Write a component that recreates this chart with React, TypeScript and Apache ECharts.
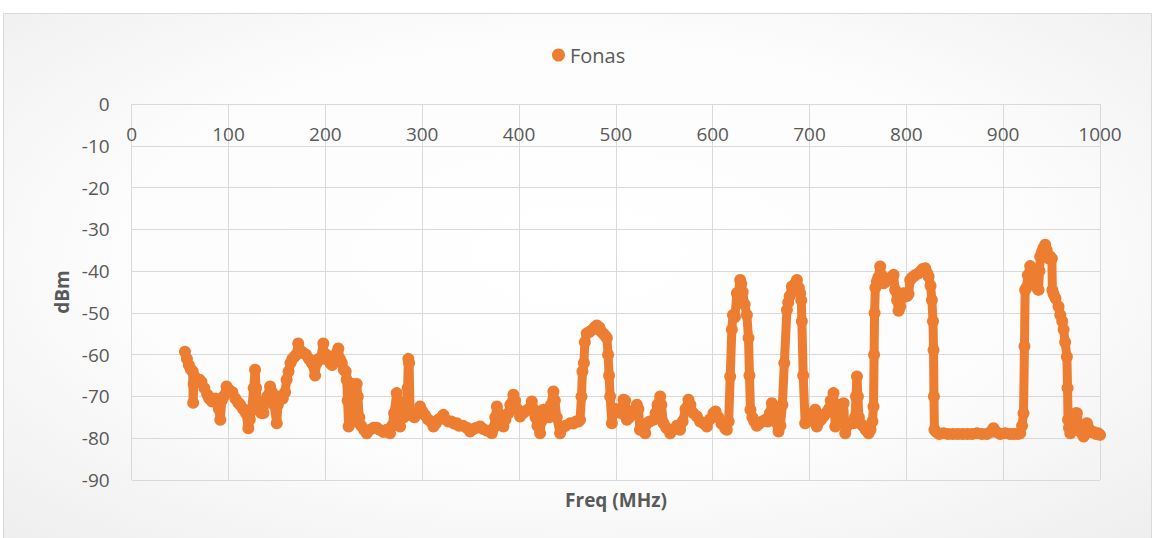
import React, { useEffect, useRef } from "react";
import * as echarts from "echarts";

const seriesName = "Fonas";
const xTitle = "Freq (MHz)";
const yTitle = "dBm";

const freqMHz = [
  55, 57, 59, 61, 63, 63.5, 64, 66, 68, 70, 72, 75, 78, 80, 83, 86, 88, 90, 91.5, 93, 95, 98, 101, 104, 107, 110, 112, 115, 118, 120.5,
  122, 124, 126, 127.4, 128.5, 130, 132, 134, 136, 138, 140, 142.9, 145, 147, 149.8, 151, 153, 156, 158.4, 160, 162, 164, 166, 168, 170, 172,
  174, 177, 180, 183, 186, 189.4, 191, 193, 195, 197.9, 199, 201, 203, 205, 207, 210, 212, 213.4, 215, 217, 219, 221, 222, 223, 224, 225.5,
  227, 228, 229, 230, 231, 232.4, 233.5, 235, 237, 240, 242.7, 246, 250, 253, 256, 260, 263, 266.8, 269, 271, 273.7, 275, 277.2, 279, 281,
  283, 285, 285.7, 286.5, 287.5, 289, 292, 295, 297.8, 300, 303, 306, 309, 311.6, 314, 317, 320, 321.9, 324, 327, 330, 333, 335.7, 338, 342,
  346, 349.5, 353, 356, 359.8, 363, 367, 371.9, 374, 375.5, 377.1, 379, 381, 383.9, 386, 389, 391, 394.2, 396, 398, 401.1, 404, 407, 410,
  413.2, 415, 417, 419, 421.8, 423, 425.2, 428, 431, 433, 435.5, 437, 439, 442.4, 445, 448, 452.8, 456, 459, 461.4, 463, 464.5, 465.5, 467,
  468, 470, 473, 476, 478, 480.3, 483, 485, 487.2, 489, 490.7, 492, 493, 494.1, 495.9, 497.5, 500, 503, 505, 507.9, 509.6, 511.4, 514, 517,
  520, 521.7, 523.3, 524.9, 527, 530.3, 532, 535, 538.9, 541, 543, 545.8, 547, 549.2, 552, 556.1, 559, 563, 566.3, 569, 572, 575, 577, 580,
  583.7, 587, 590.5, 594, 597, 600.8, 603, 606, 609, 612.9, 614.6, 616.5, 618.1, 619.8, 621, 623, 625, 626.7, 628.4, 629.5, 631, 633, 635.3,
  637, 638, 639, 641, 643, 645.6, 648, 651, 654.2, 657, 659, 661.1, 663, 665, 668, 670, 672, 674, 676.7, 678, 679.5, 681.8, 683, 685, 687,
  689, 690.4, 691.5, 692.1, 693.5, 695.5, 698, 701, 703, 705.9, 707.6, 710, 712, 714.4, 717, 720, 722, 724.8, 726.6, 728, 730, 732, 735.2,
  736.9, 739, 742, 745.5, 747, 748, 749, 750, 751, 752.4, 755, 758, 761, 763, 765, 766.1, 766.7, 767.2, 768, 769.6, 771, 773, 774.5, 776.4,
  779, 782, 784, 786.8, 788.5, 790.5, 792, 793.7, 795, 797.1, 799, 800.5, 802.3, 804, 806, 809, 812.6, 815, 817, 819.5, 821.5, 823, 825,
  826.4, 827.5, 828.1, 828.5, 829, 831, 834, 838.4, 843, 848, 853, 858, 863, 868, 873, 878, 883, 887, 890, 893, 897, 902, 907, 911, 915,
  917.6, 919.5, 921, 922, 922.7, 924, 925.5, 927.9, 929.5, 931.3, 933, 935, 936.5, 937.5, 938.3, 940, 941.5, 943.4, 945, 947, 948.5, 950.3,
  950.8, 952, 954, 957.2, 959, 961, 962.4, 964, 965.8, 966.5, 967, 968, 969.3, 971, 973, 975, 976.2, 978, 980, 983.1, 985, 986.5, 988, 990,
  993.4, 996, 998, 1000,
];

const levelDbm = [
  -59.3, -61, -62.5, -63.5, -64, -71.5, -67, -65.5, -66.5, -66, -66.5, -68, -69.5, -70.5, -71.2, -70.5, -71.5, -73, -75.6, -71, -70, -67.6, -68.5, -69, -70.5, -71.5, -72, -73, -74, -77.6,
  -75.5, -73, -68, -63.6, -68, -72, -73.5, -74, -74, -71, -70, -67.6, -69, -72, -76.4, -72, -70, -70.5, -69, -66, -64, -62, -61, -60.5, -60, -57.3,
  -59, -59.5, -60, -61, -62, -65, -62, -61, -61, -57.3, -61, -60, -61, -62, -62.5, -61.5, -59.5, -58.5, -61, -62, -63.6, -64, -66, -71, -77.2, -73,
  -70, -67, -69, -72, -76, -67, -70, -75, -77, -78, -78.8, -78, -77.5, -77.5, -78, -78.5, -78, -78.8, -77, -74, -69.2, -71, -77.2, -74, -75,
  -74, -68, -61, -62, -74, -74.5, -75, -74, -72.4, -73.5, -74.5, -75.5, -76, -77.2, -76.5, -75.5, -75, -74.4, -75.5, -76, -76, -76.5, -76.4, -77, -77,
  -77.5, -78.4, -77.8, -77.5, -77.2, -77.8, -78.2, -78.8, -77.5, -75, -72.4, -74, -76, -77.2, -75.5, -74, -72, -69.6, -71, -73, -74.8, -74, -73.5, -73,
  -71.2, -73, -75, -77, -78.8, -76, -73.2, -74, -75, -72, -68.8, -71, -75, -78.8, -77.5, -77, -76.4, -76.5, -76, -76, -75.6, -70, -64, -62,
  -57, -54.9, -54.5, -54, -53.5, -53, -53.5, -54.5, -55, -55.5, -56, -60, -65, -70, -76.4, -74, -73, -73.5, -74, -70.8, -71, -75.6, -75, -74,
  -73, -72, -73, -78, -77.5, -78.8, -76.4, -76, -75.6, -74, -72, -70, -72, -76.4, -77.5, -78.8, -78, -77, -78, -76, -73, -70.8, -72, -74,
  -74.8, -76, -76.4, -77.2, -75.5, -74, -73.6, -75, -76.5, -77.6, -78, -76, -65.2, -54, -50.5, -51, -45.3, -45, -42.1, -43, -45, -48, -50.5,
  -56, -65, -73.2, -75, -76, -77, -76.5, -76, -75.6, -76, -74, -71.6, -73, -76, -78.4, -77, -72, -62, -49.3, -47.5, -46, -43.7, -44.5, -43, -42.1,
  -44, -45.3, -47, -52, -65, -76.4, -76, -75, -74, -73.2, -77.2, -76, -75.5, -74.8, -74, -73, -71, -69.2, -77.2, -75, -73.5, -72, -71.6,
  -78.8, -77, -76.5, -76.4, -75, -70, -65.2, -70, -75, -76.4, -77, -78, -78.8, -78, -76, -72.4, -60, -50, -44, -42.5, -41.5, -38.9, -41, -42.9,
  -42.5, -42, -41.5, -40.9, -44.5, -47, -49.5, -48.5, -46.5, -45.3, -45.5, -46, -45.5, -42.1, -41.5, -41, -40.5, -40, -39.5, -39.3, -40.5, -41.3, -43.5,
  -46.9, -52, -58.9, -70, -78, -78.5, -79, -78.8, -79, -79, -79, -79, -79, -79, -78.8, -79, -79, -78.5, -77.6, -78.5, -79, -78.8, -79, -79, -79,
  -78.8, -77, -74, -58, -44.5, -44, -41, -38.8, -40.5, -42.9, -43, -44, -44.5, -40, -36.5, -35.5, -34.5, -33.7, -35, -37, -36.5, -37,
  -44.5, -45.5, -46.5, -48.5, -50.5, -52, -54, -57, -60.5, -68, -75.6, -77.5, -78.8, -78, -77, -74, -74, -77, -78.5, -79.6, -78, -76.4, -77.5, -78.5,
  -78.5, -79, -78.8, -79.2,
];

const xTicks = { min: 0, max: 1000, step: 100 };
const yTicks = { min: -90, max: 0, step: 10 };

const W = 1155;
const H = 538;
const FONT = "'Open Sans', 'Liberation Sans', sans-serif";
const TEXT = "#595959";
const GRIDLINE = "#d9d9d9";
const ORANGE = "#ED7D31";

export default function App() {
  const ref = useRef<HTMLDivElement>(null);

  useEffect(() => {
    if (!ref.current) return;
    const chart = echarts.init(ref.current, undefined, { renderer: "svg" });
    const points = freqMHz.map((f, i) => [f, levelDbm[i]]);

    chart.setOption({
      animation: false,
      backgroundColor: "#ffffff",
      textStyle: { fontFamily: FONT },
      graphic: [
        {
          type: "rect",
          z: -10,
          silent: true,
          shape: { x: 3.5, y: 13.5, width: 1148, height: 540 },
          style: {
            fill: {
              type: "radial",
              x: 0.5,
              y: 0.45,
              r: 0.75,
              colorStops: [
                { offset: 0, color: "#ffffff" },
                { offset: 0.55, color: "#fcfcfc" },
                { offset: 1, color: "#ededed" },
              ],
              global: false,
            },
            stroke: GRIDLINE,
            lineWidth: 1,
          },
        },
        {
          type: "text",
          x: 62,
          y: 292,
          rotation: Math.PI / 2,
          style: {
            text: yTitle,
            font: `bold 19px ${FONT}`,
            fill: TEXT,
            textAlign: "center",
            textVerticalAlign: "middle",
          },
        },
        {
          type: "text",
          x: 616,
          y: 500,
          style: {
            text: xTitle,
            font: `bold 19px ${FONT}`,
            fill: TEXT,
            textAlign: "center",
            textVerticalAlign: "middle",
          },
        },
      ],
      legend: {
        show: true,
        top: 40,
        left: 547,
        icon: "circle",
        itemWidth: 13,
        itemHeight: 13,
        itemGap: 10,
        textStyle: { color: TEXT, fontSize: 20, fontFamily: FONT },
        data: [seriesName],
      },
      grid: { left: 131.7, right: 55, top: 104, bottom: 58, containLabel: false },
      xAxis: {
        type: "value",
        min: xTicks.min,
        max: xTicks.max,
        interval: xTicks.step,
        position: "top",
        axisLine: { show: true, onZero: false, lineStyle: { color: GRIDLINE, width: 1 } },
        axisTick: { show: false },
        axisLabel: {
          color: TEXT,
          fontSize: 19,
          fontFamily: FONT,
          inside: true,
          margin: 20,
          formatter: (v: number) => String(v),
        },
        splitLine: { show: true, lineStyle: { color: GRIDLINE, width: 1 } },
      },
      yAxis: {
        type: "value",
        min: yTicks.min,
        max: yTicks.max,
        interval: yTicks.step,
        axisLine: { show: false },
        axisTick: { show: false },
        axisLabel: { color: TEXT, fontSize: 19, fontFamily: FONT, margin: 22 },
        splitLine: { show: true, lineStyle: { color: GRIDLINE, width: 1 } },
      },
      series: [
        {
          name: seriesName,
          type: "line",
          data: points,
          symbol: "circle",
          symbolSize: 12,
          showAllSymbol: true,
          itemStyle: { color: ORANGE },
          lineStyle: { color: ORANGE, width: 9, cap: "round", join: "round" },
          emphasis: { disabled: true },
        },
      ],
    });

    return () => chart.dispose();
  }, []);

  return (
    <div
      ref={ref}
      style={{ position: "absolute", left: 0, top: 0, width: W, height: H }}
    />
  );
}
